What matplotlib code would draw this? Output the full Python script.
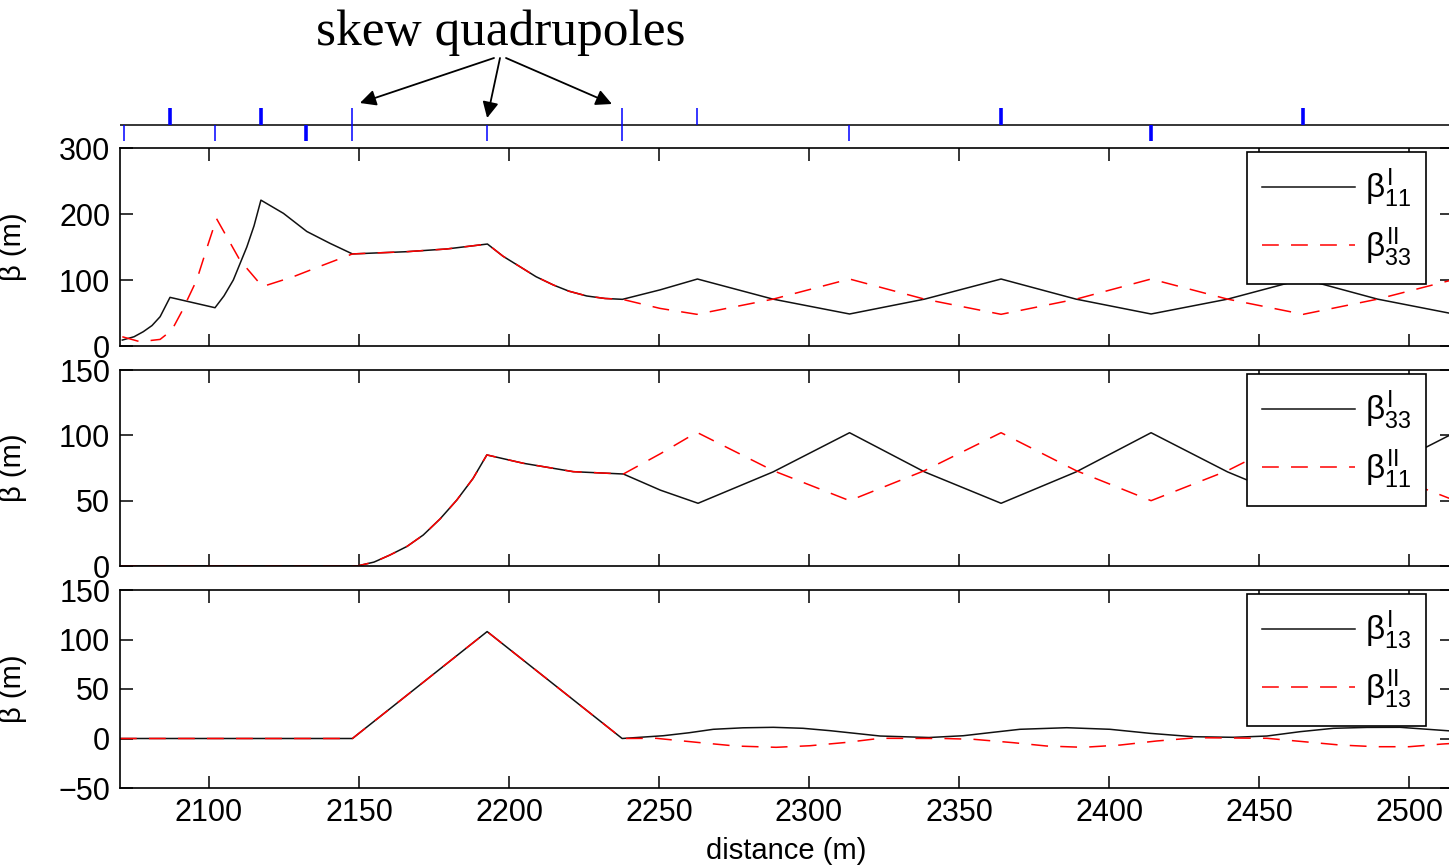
import matplotlib
matplotlib.use("Agg")
import matplotlib.pyplot as plt

plt.rcParams['font.family'] = ['Liberation Sans', 'DejaVu Sans']
plt.rcParams['mathtext.fontset'] = 'custom'
plt.rcParams['mathtext.rm'] = 'Liberation Sans'
plt.rcParams['mathtext.it'] = 'Liberation Sans'
plt.rcParams['mathtext.bf'] = 'Liberation Sans:bold'

# lattice elements: position (m), side (F above, D below, S both), thick?
elem_s = [2071.6, 2086.9, 2101.9, 2117.2, 2132.4, 2147.7, 2192.7, 2237.7,
          2262.6, 2313.3, 2363.9, 2414.1, 2464.7]
elem_kind = ['D', 'F', 'D', 'F', 'D', 'S', 'D', 'S', 'F', 'D', 'F', 'D', 'F']
elem_thick = [0, 1, 0, 1, 1, 0, 0, 0, 0, 0, 1, 1, 1]

# panel 1: beta11 (mode I) and beta33 (mode II)
s_b11_1 = [2071.1, 2075.0, 2078.1, 2081.0, 2083.7, 2087.0, 2102.0, 2105.0,
           2108.1, 2112.6, 2115.0, 2117.3, 2124.8, 2132.6, 2140.3, 2147.8,
           2165.9, 2179.2, 2192.8, 2198.0, 2203.7, 2209.0, 2214.8, 2220.0,
           2225.9, 2232.0, 2237.8, 2250.3, 2262.8, 2288.0, 2313.5, 2338.5,
           2364.0, 2389.0, 2414.0, 2439.5, 2464.7, 2489.5, 2514.3]
b11_1 = [9, 14, 21.7, 31, 44.4, 73.7, 58, 76,
         100, 150, 182, 221, 201, 173.5, 155.6, 139.5,
         142.9, 147, 154.5, 136, 120, 105, 92.4, 83,
         75.8, 72, 70.7, 85, 101.5, 71, 48.5, 71,
         101.5, 71, 48.5, 71, 101.5, 71, 49]
s_b33_2 = [2071.1, 2077.0, 2083.7, 2087.6, 2090.9, 2095.9, 2099.8, 2102.5,
           2110.3, 2117.8, 2128.1, 2138.1, 2147.8, 2165.9, 2179.2, 2192.8,
           2198.0, 2203.7, 2209.0, 2214.8, 2220.0, 2225.9, 2232.0, 2237.8,
           2250.3, 2262.6, 2288.0, 2313.5, 2338.5, 2364.0, 2389.0, 2414.0,
           2439.5, 2464.7, 2489.5, 2514.3]
b33_2 = [14, 6.5, 10, 24, 52, 100, 155.6, 193,
         130, 90, 105, 122.7, 139.5, 142.9, 147, 154.5,
         136, 120, 105, 92.4, 83, 75.8, 72, 70.7,
         57, 48, 71, 101.5, 71, 48, 71, 101.5,
         71, 48, 71, 100]

# panel 2: beta33 (mode I) and beta11 (mode II)
s_b33_1 = [2070.3, 2149.4, 2155.0, 2160.3, 2166.0, 2171.4, 2177.0, 2182.6,
           2188.0, 2192.6, 2204.8, 2221.4, 2238.1, 2250.5, 2263.0, 2288.0,
           2313.5, 2338.5, 2364.0, 2389.0, 2414.0, 2439.5, 2464.7, 2489.5,
           2514.3]
b33_1 = [0, 0, 3, 8.4, 15, 23.7, 36, 50.5,
         67, 85, 78.6, 72.2, 70.4, 58, 48, 72,
         102, 72, 48, 72, 102, 72, 48, 72,
         101]
s_b11_2 = [2070.3, 2149.4, 2155.0, 2160.3, 2166.0, 2171.4, 2177.0, 2182.6,
           2188.0, 2192.6, 2204.8, 2221.4, 2238.1, 2250.5, 2262.6, 2288.0,
           2313.5, 2338.5, 2364.0, 2389.0, 2414.0, 2439.5, 2464.7, 2489.5,
           2514.3]
b11_2 = [0, 0, 3, 8.4, 15, 23.7, 36, 50.5,
         67, 85, 78.6, 72.2, 70.4, 86, 102.3, 73,
         50, 73, 102, 73, 50, 73, 102, 73,
         51]

# panel 3: beta13 for both modes
s_b13_1 = [2070.3, 2147.8, 2192.7, 2237.7, 2251.4, 2260.0, 2268.1, 2278.0,
           2288.1, 2298.0, 2307.0, 2316.0, 2323.7, 2340.0, 2351.4, 2360.0,
           2370.3, 2385.9, 2400.3, 2413.7, 2428.1, 2441.4, 2452.6, 2463.7,
           2474.8, 2486.0, 2497.0, 2512.6, 2514.3]
b13_1 = [0, 0, 108, 0, 2.8, 5.8, 9.3, 10.8,
         11.3, 10.3, 7.9, 5.0, 2.5, 1, 2.8, 5.8,
         9.3, 10.9, 9.3, 5.2, 1.8, 1.2, 2.5, 6.9,
         10.3, 11.2, 11.3, 7.9, 7.5]
s_b13_2 = [2070.3, 2147.8, 2192.7, 2237.7, 2249.0, 2263.7, 2275.6, 2289.0,
           2300.3, 2312.6, 2323.7, 2345.0, 2354.8, 2368.0, 2379.2, 2391.4,
           2403.7, 2415.9, 2429.2, 2452.6, 2464.8, 2477.0, 2489.0, 2500.0,
           2511.0, 2514.3]
b13_2 = [0, 0, 108, 0, 0.2, -4.2, -7.6, -8.9,
         -7.3, -3.9, 0.2, 0, -0.8, -4.2, -7.6, -8.9,
         -6.6, -2.5, 0.8, 0.2, -3.2, -6.6, -8.3, -8.3,
         -5.6, -5]

xticks = [2100, 2150, 2200, 2250, 2300, 2350, 2400, 2450, 2500]
xlim = (2070.33, 2514.3)

panels = [
  (s_b11_1, b11_1, s_b33_2, b33_2, r'$\beta^{\mathrm{I}}_{11}$', r'$\beta^{\mathrm{II}}_{33}$',
   (0, 300), [0, 100, 200, 300], 148, 346),
  (s_b33_1, b33_1, s_b11_2, b11_2, r'$\beta^{\mathrm{I}}_{33}$', r'$\beta^{\mathrm{II}}_{11}$',
   (0, 150), [0, 50, 100, 150], 370, 566),
  (s_b13_1, b13_1, s_b13_2, b13_2, r'$\beta^{\mathrm{I}}_{13}$', r'$\beta^{\mathrm{II}}_{13}$',
   (-50, 150), [-50, 0, 50, 100, 150], 590, 788),
]

W_PX, H_PX = 1449, 865
fig = plt.figure(figsize=(W_PX / 100, H_PX / 100), dpi=100)
left = 120 / W_PX
width = (1452 - 120) / W_PX

axes = []
for i, (s1, y1, s2, y2, lab1, lab2, ylim, yt, top, bot) in enumerate(panels):
  ax = fig.add_axes([left, 1 - bot / H_PX, width, (bot - top) / H_PX])
  ax.plot(s1, y1, color='#111111', lw=1.1, label=lab1)
  ax.plot(s2, y2, color='#ff0000', lw=1.1, dashes=(11, 8), label=lab2)
  ax.set_xlim(*xlim)
  ax.set_ylim(*ylim)
  ax.set_yticks(yt)
  ax.set_xticks(xticks)
  ax.tick_params(direction='in', top=True, right=True, length=9, width=1.1,
                 labelsize=22, pad=7)
  if i < 2:
    ax.set_xticklabels([])
  for sp in ax.spines.values():
    sp.set_linewidth(1.2)
  ax.set_ylabel(r'β (m)', fontsize=21)
  ax.yaxis.set_label_coords(-0.07, 0.5)
  leg = ax.legend(loc='upper right', bbox_to_anchor=(0.9805, 0.98),
                  borderaxespad=0, fontsize=24, handlelength=2.8,
                  handletextpad=0.3, labelspacing=0.45, borderpad=0.45,
                  fancybox=False, framealpha=1, edgecolor='k')
  leg.get_frame().set_linewidth(1.2)
  axes.append(ax)

axes[-1].set_xlabel('distance (m)', fontsize=21, labelpad=7)

# lattice strip
ax_lat = fig.add_axes([left, 1 - 155 / H_PX, width, 60 / H_PX])
ax_lat.set_xlim(*xlim)
ax_lat.set_ylim(-1.5, 1.5)
ax_lat.axis('off')
ax_lat.axhline(0, color='k', lw=1.1)
for s, k, t in zip(elem_s, elem_kind, elem_thick):
  lo = -0.8 if k in ('D', 'S') else 0
  hi = 0.85 if k in ('F', 'S') else 0
  ax_lat.vlines(s, lo, hi, color='#0000ff', lw=2.6 if t else 1.1)

# skew quadrupole annotation
fig.text(501 / W_PX, 1 - 33 / H_PX, 'skew quadrupoles', ha='center',
         va='center', fontsize=37, family='Liberation Serif')
arrow_tips = [(2150.3, 1.1), (2192.7, 0.35), (2234.3, 1.05)]
arrow_tails = [(494, 58), (500, 58), (506, 58)]
for (xs, ys), (tx, ty) in zip(arrow_tips, arrow_tails):
  ax_lat.annotate('', xy=(xs, ys), xycoords='data',
                  xytext=(tx / W_PX, 1 - ty / H_PX), textcoords='figure fraction',
                  arrowprops=dict(arrowstyle='-|>', color='k', lw=1.3,
                                  mutation_scale=24, shrinkA=0, shrinkB=0),
                  annotation_clip=False)

fig.savefig('out.png', dpi=100)
